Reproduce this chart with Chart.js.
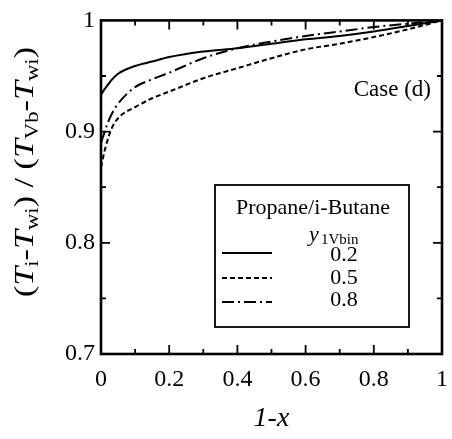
<!DOCTYPE html>
<html>
<head>
<meta charset="utf-8">
<script src="https://cdn.jsdelivr.net/npm/chart.js@4"></script>
<style>
  body { margin: 0; background: #fff; }
  canvas { display: block; }
</style>
</head>
<body>
<canvas id="chart" width="452" height="439"></canvas>
<script>
// Data (1-x vs (Ti-Twi)/(TVb-Twi))
const xValues = [0, 0.01, 0.02, 0.03, 0.05, 0.1, 0.15, 0.2, 0.3, 0.4, 0.5, 0.6, 0.7, 0.8, 0.9, 1];
const y02 = [0.933, 0.938, 0.942, 0.946, 0.952, 0.959, 0.963, 0.967, 0.972, 0.975, 0.979, 0.983, 0.986, 0.990, 0.995, 1.0];
const y05 = [0.868, 0.882, 0.893, 0.902, 0.912, 0.922, 0.930, 0.936, 0.948, 0.957, 0.966, 0.974, 0.979, 0.985, 0.992, 1.0];
const y08 = [0.890, 0.899, 0.908, 0.915, 0.925, 0.940, 0.947, 0.953, 0.966, 0.975, 0.981, 0.986, 0.990, 0.994, 0.997, 1.0];
const seriesLabels = ['0.2', '0.5', '0.8'];
const seriesDash = [[], [5, 3], [12, 4, 2, 4]];
const legendTitle = 'Propane/i-Butane';
const caseLabel = 'Case (d)';

const FONT = '"Liberation Serif", "Times New Roman", serif';

function toPoints(ys) {
    return xValues.map((x, i) => ({ x: x, y: ys[i] }));
}

const datasets = [y02, y05, y08].map((ys, i) => ({
    label: seriesLabels[i],
    data: toPoints(ys),
    borderColor: '#000',
    borderWidth: 2,
    borderDash: seriesDash[i],
    pointRadius: 0,
    fill: false,
    cubicInterpolationMode: 'monotone'
}));

// Frame, inward ticks, legend box, annotations
const decorPlugin = {
    id: 'decor',
    afterDatasetsDraw(chart) {
        const ctx = chart.ctx;
        const a = chart.chartArea;
        const xs = chart.scales.x;
        const ys = chart.scales.y;
        ctx.save();

        // frame
        ctx.strokeStyle = '#000';
        ctx.lineWidth = 2.6;
        ctx.strokeRect(a.left, a.top, a.right - a.left, a.bottom - a.top);

        // inward ticks
        ctx.lineWidth = 1.8;
        ctx.beginPath();
        for (let i = 1; i < 10; i++) {
            const v = i / 10;
            const px = xs.getPixelForValue(v);
            const len = (i % 2 === 0) ? 9 : 5;
            ctx.moveTo(px, a.bottom); ctx.lineTo(px, a.bottom - len);
            ctx.moveTo(px, a.top); ctx.lineTo(px, a.top + len);
        }
        for (let i = 1; i < 6; i++) {
            const v = 0.7 + i * 0.05;
            const py = ys.getPixelForValue(v);
            const len = (i % 2 === 0) ? 9 : 5;
            ctx.moveTo(a.left, py); ctx.lineTo(a.left + len, py);
            ctx.moveTo(a.right, py); ctx.lineTo(a.right - len, py);
        }
        ctx.stroke();

        // case label
        ctx.fillStyle = '#000';
        ctx.font = '23px ' + FONT;
        ctx.textAlign = 'right';
        ctx.textBaseline = 'middle';
        ctx.fillText(caseLabel, 431, 90);

        // legend box
        const bx = 215, by = 185, bw = 194, bh = 142;
        ctx.fillStyle = '#fff';
        ctx.fillRect(bx, by, bw, bh);
        ctx.lineWidth = 1.8;
        ctx.strokeRect(bx, by, bw, bh);
        ctx.fillStyle = '#000';
        ctx.textAlign = 'center';
        ctx.font = '22px ' + FONT;
        ctx.fillText(legendTitle, bx + bw / 2 + 1, 208);

        // y_1Vbin header
        ctx.textAlign = 'left';
        ctx.textBaseline = 'alphabetic';
        ctx.font = 'italic 22px ' + FONT;
        ctx.fillText('y', 309, 241);
        ctx.font = '15px ' + FONT;
        ctx.fillText('1Vbin', 321, 244);

        ctx.font = '22px ' + FONT;
        ctx.textAlign = 'center';
        ctx.textBaseline = 'middle';
        const lineY = [253, 278, 302];
        const textY = [255, 278, 300];
        chart.data.datasets.forEach((ds, i) => {
            ctx.beginPath();
            ctx.setLineDash(ds.borderDash);
            ctx.lineWidth = 2;
            ctx.moveTo(222, lineY[i]);
            ctx.lineTo(272, lineY[i]);
            ctx.stroke();
            ctx.setLineDash([]);
            ctx.fillText(ds.label, 344, textY[i]);
        });

        // y axis title: (Ti-Twi) / (TVb-Twi)
        const parts = [
            ['(', 'n'], ['T', 'i'], ['i', 's'], ['-', 'n'], ['T', 'i'], ['wi', 's'], [')', 'n'],
            [' / ', 'n'],
            ['(', 'n'], ['T', 'i'], ['Vb', 's'], ['-', 'n'], ['T', 'i'], ['wi', 's'], [')', 'n']
        ];
        const fontFor = t => t === 'i' ? 'italic 27px ' + FONT : (t === 's' ? '18px ' + FONT : '27px ' + FONT);
        let total = 0;
        parts.forEach(p => { ctx.font = fontFor(p[1]); total += ctx.measureText(p[0]).width; });
        ctx.textBaseline = 'alphabetic';
        ctx.translate(33, 172);
        ctx.rotate(-Math.PI / 2);
        ctx.scale(250 / total, 1);
        ctx.textAlign = 'left';
        let cx = -total / 2;
        parts.forEach(p => {
            ctx.font = fontFor(p[1]);
            ctx.fillText(p[0], cx, p[1] === 's' ? 5 : 0);
            cx += ctx.measureText(p[0]).width;
        });
        ctx.restore();
    }
};

new Chart(document.getElementById('chart'), {
    type: 'line',
    data: { datasets: datasets },
    options: {
        responsive: false,
        animation: false,
        layout: { padding: { left: 0, right: 10, top: 20, bottom: 0 } },
        plugins: { legend: { display: false }, tooltip: { enabled: false } },
        scales: {
            x: {
                type: 'linear',
                min: 0,
                max: 1,
                grid: { display: false, drawTicks: false },
                border: { display: false },
                ticks: {
                    stepSize: 0.2,
                    padding: 11,
                    color: '#000',
                    font: { family: FONT, size: 24 },
                    callback: v => String(Number(v.toFixed(2)))
                },
                title: {
                    display: true,
                    text: '1-x',
                    color: '#000',
                    font: { family: FONT, size: 28, style: 'italic' },
                    padding: { top: 0, bottom: 4 }
                },
                afterFit: s => {
                    s.height = 85;
                    s.paddingLeft = 0;
                    s.paddingRight = 0;
                }
            },
            y: {
                min: 0.7,
                max: 1,
                grid: { display: false, drawTicks: false },
                border: { display: false },
                ticks: {
                    stepSize: 0.1,
                    padding: 6,
                    color: '#000',
                    font: { family: FONT, size: 24 },
                    callback: v => String(Number(v.toFixed(2)))
                },
                afterFit: s => { s.width = 101; }
            }
        }
    },
    plugins: [decorPlugin]
});
</script>
</body>
</html>
